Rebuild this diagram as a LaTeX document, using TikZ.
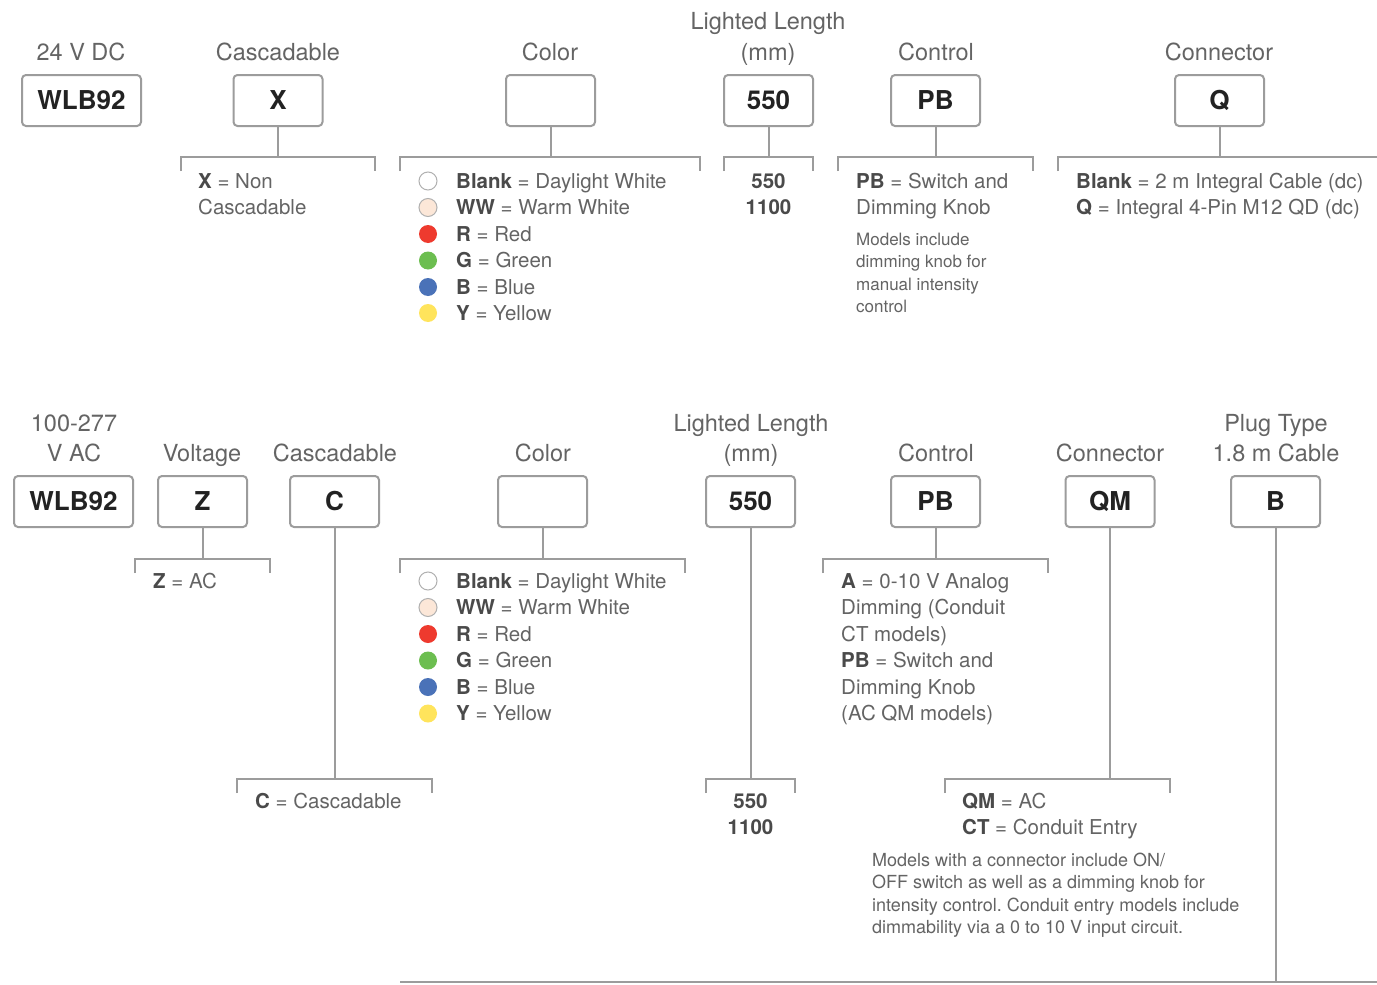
\documentclass[tikz,border=0pt]{standalone}
\usepackage{fontspec}
\setmainfont{TeX Gyre Heros}
\frenchspacing
\definecolor{txt}{HTML}{646464}
\definecolor{txtb}{HTML}{4A4A4A}
\definecolor{boxt}{HTML}{222222}
\definecolor{ln}{HTML}{9C9C9C}
\definecolor{dotww}{HTML}{FCE7D8}
\definecolor{dotr}{HTML}{EE3A2E}
\definecolor{dotg}{HTML}{6CBE50}
\definecolor{dotb}{HTML}{4A72B8}
\definecolor{doty}{HTML}{FFE45C}
\newcommand{\kb}[1]{{\bfseries\color{txtb}#1}}
\tikzset{
 hdr/.style={font=\fontsize{23.5}{28}\selectfont, text=txt, anchor=base, inner sep=0},
 codebox/.style={draw=ln, line width=2, rounded corners=4, minimum width=89, minimum height=51, font=\fontsize{26}{30}\selectfont\bfseries, text=boxt, inner sep=0},
 desc/.style={font=\fontsize{20.5}{26}\selectfont, text=txt, anchor=base west, inner sep=0},
 descc/.style={font=\fontsize{20.5}{26}\selectfont\bfseries, text=txtb, anchor=base, inner sep=0},
 note/.style={font=\fontsize{17}{22}\selectfont, text=txt, anchor=base west, inner sep=0},
 notel/.style={note, font=\fontsize{18}{22}\selectfont},
 conn/.style={draw=ln, line width=2},
 dot/.style={circle, minimum size=18, inner sep=0},
 dotw/.style={dot, draw=ln!80, line width=1, fill=white},
}
\begin{document}
\begin{tikzpicture}[x=1pt,y=-1pt]
\useasboundingbox[fill=white] (0,0) rectangle (1377,985);

% ===== top row =====
\node[hdr] (h1) at (81,60) {24 V DC};
\node[hdr] (h2) at (278,60) {Cascadable};
\node[hdr] (h3) at (550,60) {Color};
\node[hdr] (h4a) at (768,30) {Lighted Length};
\node[hdr] (h4b) at (768,60) {(mm)};
\node[hdr] (h5) at (936,60) {Control};
\node[hdr] (h6) at (1219,60) {Connector};

\node[codebox, minimum width=119] (t1) at (81.5,100.5) {WLB92};
\node[codebox] (t2) at (278,100.5) {X};
\node[codebox] (t3) at (550.5,100.5) {};
\node[codebox] (t4) at (768.5,100.5) {550};
\node[codebox] (t5) at (935.5,100.5) {PB};
\node[codebox] (t6) at (1219.5,100.5) {Q};

\coordinate (t2m) at (278,157); \coordinate (t2l) at (181,157); \coordinate (t2r) at (375,157);
\coordinate (t3m) at (550.5,157); \coordinate (t3l) at (400,157); \coordinate (t3r) at (700,157);
\coordinate (t4m) at (768.5,157); \coordinate (t4l) at (724,157); \coordinate (t4r) at (813,157);
\coordinate (t5m) at (935.5,157); \coordinate (t5l) at (838,157); \coordinate (t5r) at (1033,157);
\coordinate (t6m) at (1219.5,157); \coordinate (t6l) at (1058,157); \coordinate (t6r) at (1377,157);

\foreach \n in {t2,t3,t4,t5}{
  \draw[conn] (\n.south) -- (\n m);
  \draw[conn] (\n l) ++(0,14) -- (\n l) -- (\n r) -- ++(0,14);
}
\draw[conn] (t6.south) -- (t6m);
\draw[conn] (t6l) ++(0,14) -- (t6l) -- (t6r);

\node[desc] (d2a) at (198,188) {\kb{X} = Non};
\node[desc] (d2b) at (198,214) {Cascadable};

\node[dotw] (c1) at (428,181) {};
\node[dotw, fill=dotww] (c2) at (428,207.5) {};
\node[dot, fill=dotr] (c3) at (428,234) {};
\node[dot, fill=dotg] (c4) at (428,260.5) {};
\node[dot, fill=dotb] (c5) at (428,287) {};
\node[dot, fill=doty] (c6) at (428,313) {};
\node[desc] (e1) at (456,188) {\kb{Blank} = Daylight White};
\node[desc] (e2) at (456,214) {\kb{WW} = Warm White};
\node[desc] (e3) at (456,241) {\kb{R} = Red};
\node[desc] (e4) at (456,267) {\kb{G} = Green};
\node[desc] (e5) at (456,294) {\kb{B} = Blue};
\node[desc] (e6) at (456,320) {\kb{Y} = Yellow};

\node[descc] (l1) at (768.5,188) {550};
\node[descc] (l2) at (768.5,214) {1100};

\node[desc] (p1) at (856,188) {\kb{PB} = Switch and};
\node[desc] (p2) at (856,214) {Dimming Knob};
\node[note] (n1) at (856,245) {Models include};
\node[note] (n2) at (856,267) {dimming knob for};
\node[note] (n3) at (856,290) {manual intensity};
\node[note] (n4) at (856,312) {control};

\node[desc] (q1) at (1076,188) {\kb{Blank} = 2 m Integral Cable (dc)};
\node[desc] (q2) at (1076,214) {\kb{Q} = Integral 4-Pin M12 QD (dc)};

% ===== bottom row =====
\node[hdr] (g1a) at (74,431) {100-277};
\node[hdr] (g1b) at (74,461) {V AC};
\node[hdr] (g2) at (202,461) {Voltage};
\node[hdr] (g3) at (335,461) {Cascadable};
\node[hdr] (g4) at (543,461) {Color};
\node[hdr] (g5a) at (751,431) {Lighted Length};
\node[hdr] (g5b) at (751,461) {(mm)};
\node[hdr] (g6) at (936,461) {Control};
\node[hdr] (g7) at (1110,461) {Connector};
\node[hdr] (g8a) at (1276,431) {Plug Type};
\node[hdr] (g8b) at (1276,461) {1.8 m Cable};

\node[codebox, minimum width=119] (b1) at (73.5,501.5) {WLB92};
\node[codebox] (b2) at (202.5,501.5) {Z};
\node[codebox] (b3) at (334.5,501.5) {C};
\node[codebox] (b4) at (542.5,501.5) {};
\node[codebox] (b5) at (750.5,501.5) {550};
\node[codebox] (b6) at (935.5,501.5) {PB};
\node[codebox] (b7) at (1110,501.5) {QM};
\node[codebox] (b8) at (1275.5,501.5) {B};

\coordinate (b2m) at (202.5,559); \coordinate (b2l) at (135,559); \coordinate (b2r) at (270,559);
\coordinate (b3m) at (334.5,779); \coordinate (b3l) at (237,779); \coordinate (b3r) at (432,779);
\coordinate (b4m) at (542.5,559); \coordinate (b4l) at (400,559); \coordinate (b4r) at (685,559);
\coordinate (b5m) at (750.5,779); \coordinate (b5l) at (706,779); \coordinate (b5r) at (795,779);
\coordinate (b6m) at (935.5,559); \coordinate (b6l) at (823,559); \coordinate (b6r) at (1048,559);
\coordinate (b7m) at (1110,779); \coordinate (b7l) at (945,779); \coordinate (b7r) at (1170,779);
\coordinate (b8m) at (1275.5,982); \coordinate (b8l) at (400,982); \coordinate (b8r) at (1377,982);

\foreach \n in {b2,b3,b4,b5,b6,b7}{
  \draw[conn] (\n.south) -- (\n m);
  \draw[conn] (\n l) ++(0,14) -- (\n l) -- (\n r) -- ++(0,14);
}
\draw[conn] (b8.south) -- (b8m);
\draw[conn] (b8l) -- (b8r);

\node[desc] (z1) at (153,588) {\kb{Z} = AC};

\node[dotw] (k1) at (428,581) {};
\node[dotw, fill=dotww] (k2) at (428,607.5) {};
\node[dot, fill=dotr] (k3) at (428,634) {};
\node[dot, fill=dotg] (k4) at (428,660.5) {};
\node[dot, fill=dotb] (k5) at (428,687) {};
\node[dot, fill=doty] (k6) at (428,713.5) {};
\node[desc] (f1) at (456,588) {\kb{Blank} = Daylight White};
\node[desc] (f2) at (456,614) {\kb{WW} = Warm White};
\node[desc] (f3) at (456,641) {\kb{R} = Red};
\node[desc] (f4) at (456,667) {\kb{G} = Green};
\node[desc] (f5) at (456,694) {\kb{B} = Blue};
\node[desc] (f6) at (456,720) {\kb{Y} = Yellow};

\node[desc] (a1) at (841,588) {\kb{A} = 0-10 V Analog};
\node[desc] (a2) at (841,614) {Dimming (Conduit};
\node[desc] (a3) at (841,641) {CT models)};
\node[desc] (a4) at (841,667) {\kb{PB} = Switch and};
\node[desc] (a5) at (841,694) {Dimming Knob};
\node[desc] (a6) at (841,720) {(AC QM models)};

\node[desc] (cc) at (255,808) {\kb{C} = Cascadable};
\node[descc] (m1) at (750.5,808) {550};
\node[descc] (m2) at (750.5,834) {1100};

\node[desc] (r1) at (962,808) {\kb{QM} = AC};
\node[desc] (r2) at (962,834) {\kb{CT} = Conduit Entry};
\node[notel] (o1) at (872,866) {Models with a connector include ON/};
\node[notel] (o2) at (872,888) {OFF switch as well as a dimming knob for};
\node[notel] (o3) at (872,911) {intensity control. Conduit entry models include};
\node[notel] (o4) at (872,933) {dimmability via a 0 to 10 V input circuit.};
\end{tikzpicture}
\end{document}
